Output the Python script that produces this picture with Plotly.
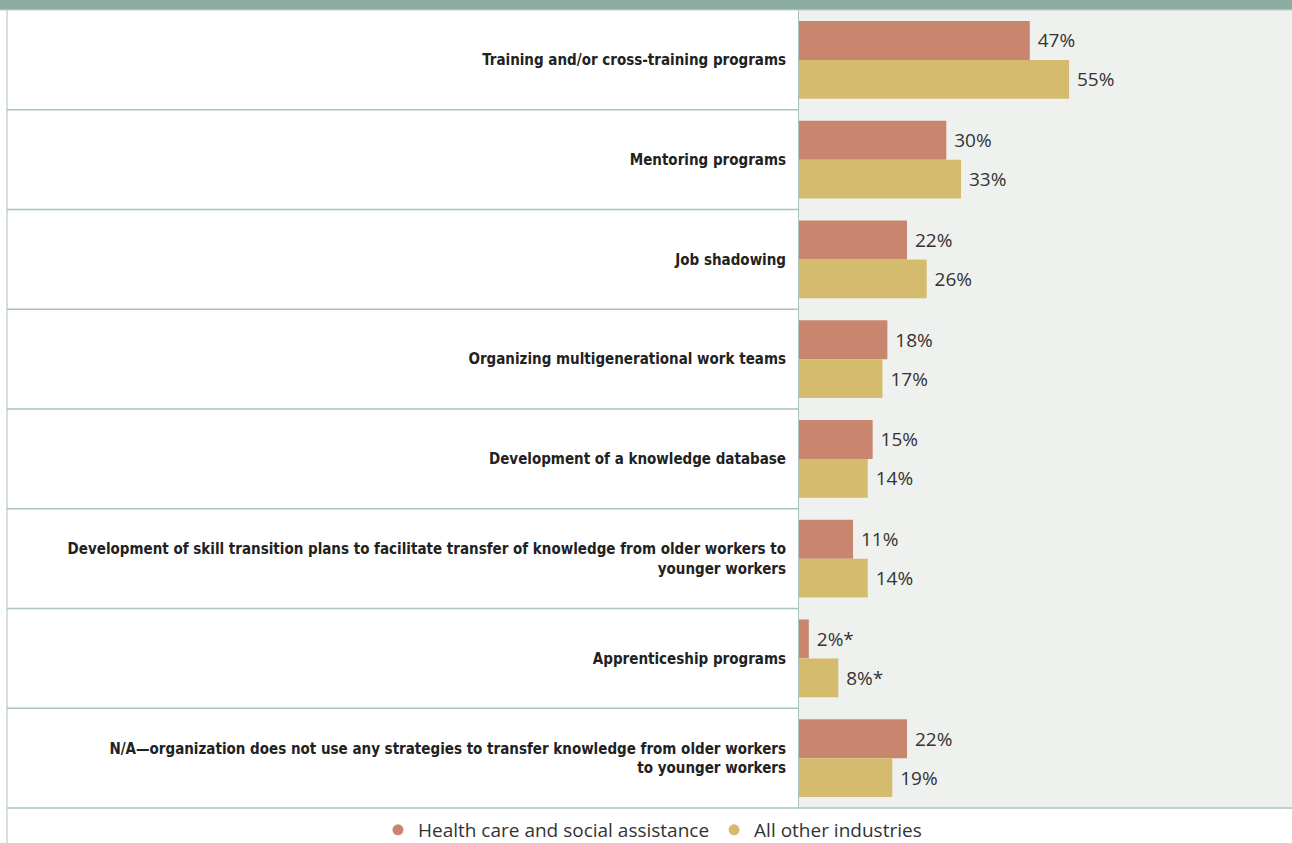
"""
Knowledge-transfer strategies: health care vs. all other industries
Horizontal grouped bar chart
"""

import plotly.graph_objects as go

# Data
categories = [
    "Training and/or cross-training programs",
    "Mentoring programs",
    "Job shadowing",
    "Organizing multigenerational work teams",
    "Development of a knowledge database",
    "Development of skill transition plans to facilitate transfer of knowledge from older workers to<br>younger workers",
    "Apprenticeship programs",
    "N/A\u2014organization does not use any strategies to transfer knowledge from older workers<br>to younger workers",
]
health_care = [47, 30, 22, 18, 15, 11, 2, 22]
other_industries = [55, 33, 26, 17, 14, 14, 8, 19]
health_labels = ["47%", "30%", "22%", "18%", "15%", "11%", "2%*", "22%"]
other_labels = ["55%", "33%", "26%", "17%", "14%", "14%", "8%*", "19%"]
series_names = ["Health care and social assistance", "All other industries"]

PINK = "#C8866F"
GOLD = "#D5BB6D"
HEADER = "#8DADA3"
RULE = "#A9C5BD"
PANEL = "#EFF1EE"

W, H = 1292, 843
TOP, BOTTOM = 10, 35
PLOT_H = H - TOP - BOTTOM
SPLIT = 799 / W

fig = go.Figure()

for name, vals, labels, color in [
    (series_names[0], health_care, health_labels, PINK),
    (series_names[1], other_industries, other_labels, GOLD),
]:
    fig.add_trace(go.Bar(
        y=categories,
        x=vals,
        orientation="h",
        name=name,
        marker=dict(color=color, line=dict(width=0)),
        text=["\u00a0" + t for t in labels],
        textposition="outside",
        textfont=dict(family="Open Sans, sans-serif", size=19, color="#333333"),
        cliponaxis=False,
        showlegend=False,
    ))
    # round legend markers
    fig.add_trace(go.Scatter(
        x=[None], y=[None],
        mode="markers",
        name=name,
        marker=dict(color=color, size=11, symbol="circle"),
        showlegend=True,
    ))

shapes = [
    # header band
    dict(type="rect", xref="paper", yref="paper", x0=0, x1=1,
         y0=1, y1=1 + TOP / PLOT_H, fillcolor=HEADER, line_width=0, layer="above"),
    dict(type="line", xref="paper", yref="paper", x0=0, x1=1,
         y0=1, y1=1, line=dict(color="#C2D6D0", width=1)),
    # left border
    dict(type="line", xref="paper", yref="paper", x0=7 / W, x1=7 / W,
         y0=-BOTTOM / PLOT_H, y1=1, line=dict(color=RULE, width=1)),
    # bottom rule, full width
    dict(type="line", xref="paper", yref="paper", x0=7 / W, x1=1,
         y0=0, y1=0, line=dict(color=RULE, width=1.5)),
]
# row separators in the label column
for i in range(len(categories) - 1):
    shapes.append(dict(type="line", xref="paper", yref="y",
                       x0=7 / W, x1=SPLIT, y0=i + 0.5, y1=i + 0.5,
                       line=dict(color=RULE, width=1.5)))

fig.update_layout(
    width=W,
    height=H,
    barmode="group",
    bargap=0.22,
    bargroupgap=0,
    paper_bgcolor="white",
    plot_bgcolor=PANEL,
    margin=dict(l=0, r=0, t=TOP, b=BOTTOM, pad=0),
    font=dict(family="Open Sans, sans-serif", color="#222222"),
    shapes=shapes,
    xaxis=dict(
        domain=[SPLIT, 1],
        range=[0, 100.4],
        visible=False,
        fixedrange=True,
    ),
    yaxis=dict(
        autorange="reversed",
        showline=True,
        linecolor=RULE,
        linewidth=1,
        showgrid=False,
        ticks="",
        ticklabelstandoff=9,
        tickfont=dict(family="DejaVu Sans Condensed, DejaVu Sans", size=15,
                      color="#222222", weight="bold"),
        fixedrange=True,
    ),
    legend=dict(
        orientation="h",
        xref="container", yref="container",
        x=0.505, xanchor="center",
        y=13 / H, yanchor="middle",
        font=dict(family="Open Sans, sans-serif", size=19, color="#333333"),
        itemwidth=30,
        bgcolor="rgba(0,0,0,0)",
    ),
)

fig.write_html("out.html", config={"displayModeBar": False},
               post_script="document.body.style.margin='0';")
